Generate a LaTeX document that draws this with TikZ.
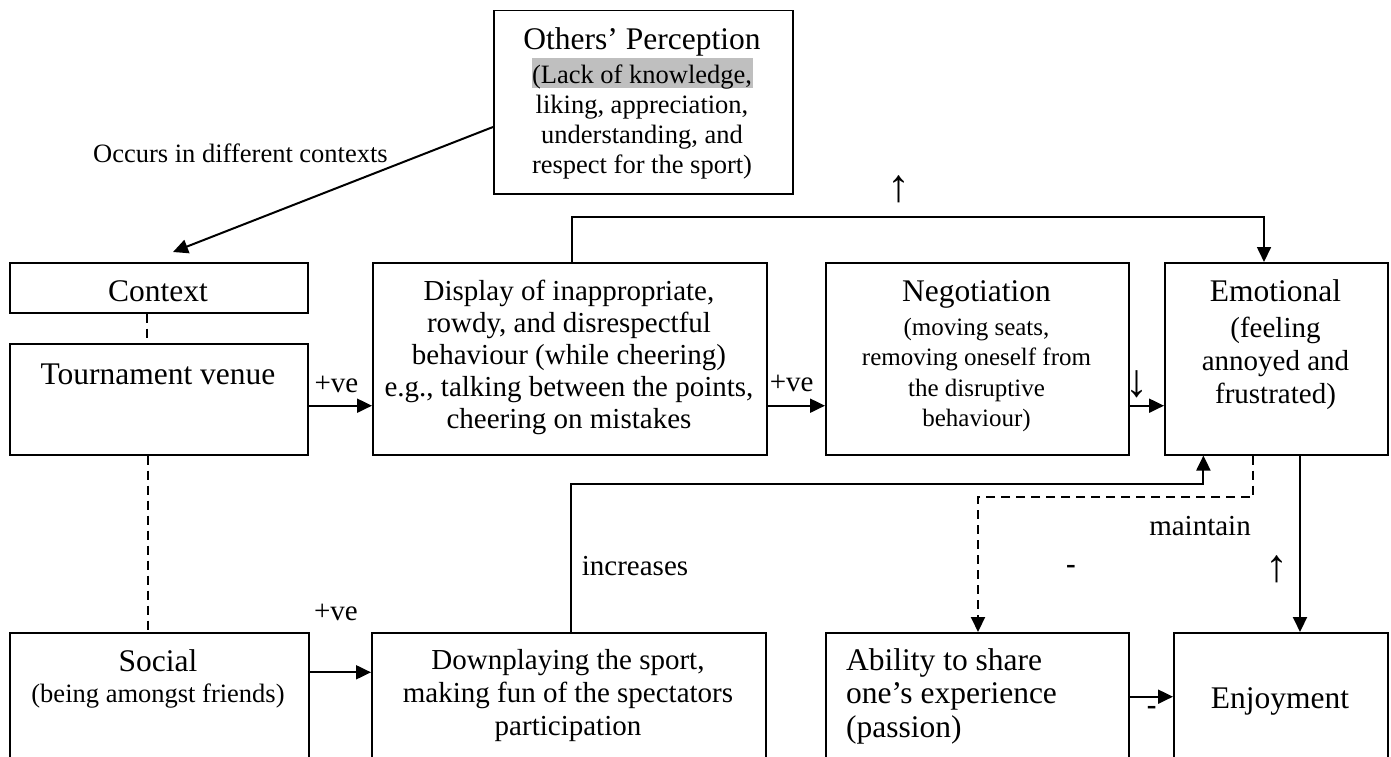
\documentclass[tikz,border=0pt]{standalone}
\usepackage{fontspec}
\setmainfont{Liberation Serif}
\usetikzlibrary{arrows.meta}
\newcommand{\fT}{\fontsize{31.5}{36}\selectfont}
\newcommand{\fM}{\fontsize{29}{32.2}\selectfont}
\newcommand{\fE}{\fontsize{29}{33}\selectfont}
\newcommand{\fS}{\fontsize{26.5}{30}\selectfont}
\newcommand{\fN}{\fontsize{25}{30.5}\selectfont}
\newcommand{\fA}{\fontsize{31.5}{33.5}\selectfont}
\newcommand{\fR}{\fontsize{46}{50}\selectfont}
\begin{document}
\begin{tikzpicture}[x=1pt,y=-1pt,
  box/.style={draw, line width=1.5pt, inner sep=0pt, anchor=north west},
  txt/.style={inner sep=0pt, align=center},
  conn/.style={line width=2pt},
  arr/.style={conn, -{Triangle[length=15pt,width=14pt]}},
  dsh/.style={conn, dash pattern=on 9pt off 6pt}]
\useasboundingbox (0,0) rectangle (1391,757);
\clip (0,0) rectangle (1391,757);
% highlight
\fill[black!25] (532,58) rectangle (753,88);
% boxes
\node[box, minimum width=299pt, minimum height=183pt] (op) at (493,10) {};
\node[box, minimum width=298pt, minimum height=50pt] (ctx) at (9,262) {};
\node[box, minimum width=298pt, minimum height=111pt] (tv) at (9,343) {};
\node[box, minimum width=394pt, minimum height=192pt] (disp) at (372,262) {};
\node[box, minimum width=303pt, minimum height=192pt] (neg) at (825,262) {};
\node[box, minimum width=223pt, minimum height=192pt] (emo) at (1164,262) {};
\node[box, minimum width=299pt, minimum height=150pt] (soc) at (9,632) {};
\node[box, minimum width=394pt, minimum height=150pt] (down) at (371,632) {};
\node[box, minimum width=303pt, minimum height=150pt] (abil) at (825,632) {};
\node[box, minimum width=214pt, minimum height=150pt] (enj) at (1173,632) {};
% texts
\node[txt, font=\fT, anchor=base] (opT) at (642,50) {Others' Perception};
\node[txt, font=\fS] (opS) at (642,121.5) {(Lack of knowledge,\\liking, appreciation,\\understanding, and\\respect for the sport)};
\node[txt, font=\fT, anchor=base] (ctxT) at (158,301.7) {Context};
\node[txt, font=\fT, anchor=base] (tvT) at (158,384) {Tournament venue};
\node[txt, font=\fM] (dispS) at (569,357.4) {Display of inappropriate,\\rowdy, and disrespectful\\behaviour (while cheering)\\e.g., talking between the points,\\cheering on mistakes};
\node[txt, font=\fT, anchor=base] (negT) at (976.5,301.7) {Negotiation};
\node[txt, font=\fN] (negS) at (976.5,375) {(moving seats,\\removing oneself from\\the disruptive\\behaviour)};
\node[txt, font=\fT, anchor=base] (emoT) at (1275.5,301.7) {Emotional};
\node[txt, font=\fE] (emoS) at (1275.5,363.2) {(feeling\\annoyed and\\frustrated)};
\node[txt, font=\fT, anchor=base] (socT) at (158,671.7) {Social};
\node[txt, font=\fS, anchor=base] (socS) at (158,702.3) {(being amongst friends)};
\node[txt, font=\fE] (downS) at (568,696) {Downplaying the sport,\\making fun of the spectators\\participation};
\node[txt, font=\fA, align=left, anchor=west] (abilS) at (846,696) {Ability to share\\one's experience\\(passion)};
\node[txt, font=\fT, anchor=base] (enjT) at (1280,708.3) {Enjoyment};
% labels
\node[txt, font=\fS, anchor=base] (occ) at (240.5,162) {Occurs in different contexts};
\node[txt, font=\fM, anchor=base] (pv1) at (336.5,392.7) {+ve};
\node[txt, font=\fM, anchor=base] (pv2) at (791.7,391.7) {+ve};
\node[txt, font=\fM, anchor=base] (pv3) at (336,620) {+ve};
\node[txt, font=\fR] (dn) at (1137,384.5) {↓};
\node[txt, font=\fR] (up1) at (899,189.5) {↑};
\node[txt, font=\fR] (up2) at (1276.7,569) {↑};
\node[txt, font=\fM\bfseries] (m1) at (1071,569) {-};
\node[txt, font=\fM\bfseries] (m2) at (1151.7,710.7) {-};
\node[txt, font=\fM, anchor=base] (inc) at (635,575) {increases};
\node[txt, font=\fM, anchor=base] (mnt) at (1200,535) {maintain};
% connectors
\coordinate (ctxtip) at (173,252);
\draw[arr] (op.west |- 0,127) -- (ctxtip);
\draw[dsh] (ctx.south -| 147.3,0) -- (tv.north -| 147.3,0);
\draw[dsh] (tv.south -| 148,0) -- (soc.north -| 148,0);
\draw[arr] (tv.east |- 0,405.7) -- (disp.west |- 0,405.7);
\draw[arr] (disp.east |- 0,405.7) -- (neg.west |- 0,405.7);
\draw[arr] (neg.east |- 0,405.7) -- (emo.west |- 0,405.7);
\draw[arr, line width=1.7pt] (disp.north -| 571.7,0) -- (571.7,217.3) -| (emo.north -| 1264,0);
\draw[arr] (down.north -| 571.4,0) -- (571.4,484) -| (emo.south -| 1203.4,0);
\draw[dsh, -{Triangle[length=15pt,width=14pt]}] (emo.south -| 1253.4,0) -- (1253.4,497.3) -| (abil.north -| 978,0);
\draw[arr] (emo.south -| 1300,0) -- (enj.north -| 1300,0);
\draw[arr] (abil.east |- 0,696.7) -- (enj.west |- 0,696.7);
\draw[arr] (soc.east |- 0,672.3) -- (down.west |- 0,672.3);
\end{tikzpicture}
\end{document}
